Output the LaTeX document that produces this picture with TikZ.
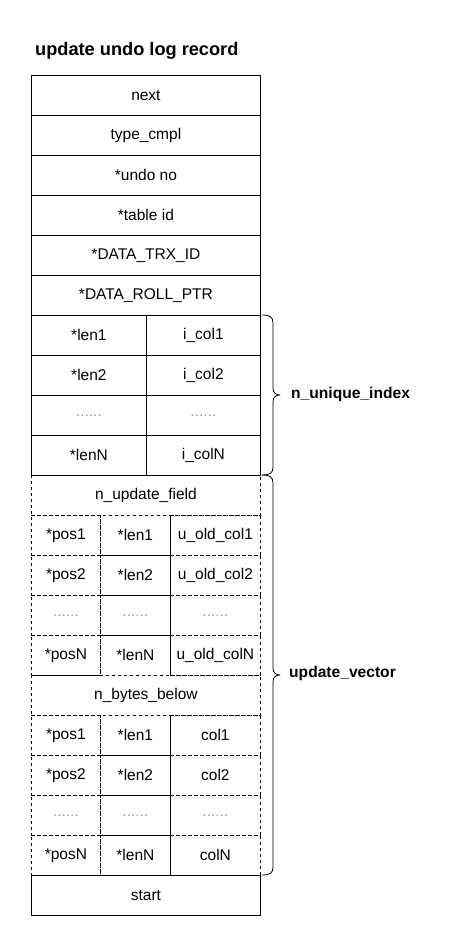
\documentclass[tikz,border=0pt]{standalone}
\usepackage{fontspec}
\setmainfont{Liberation Sans}
\begin{document}
\begin{tikzpicture}[x=1pt,y=-1pt,
  base/.style={minimum height=40pt, inner sep=0pt, anchor=north west, font=\fontsize{15.5}{18}\selectfont, line width=0.8pt},
  cell/.style={base, draw},
  dcell/.style={base, draw, dash pattern=on 3pt off 3pt},
  dots/.style={text=gray!75},
  lbl/.style={font=\fontsize{15.6}{18}\selectfont\bfseries, anchor=west, inner sep=0pt},
  bracepath/.style={line width=0.8pt, line join=round}
]
\useasboundingbox (0,0) rectangle (453,946);
\node[anchor=west, inner sep=0pt, font=\fontsize{18.2}{21}\selectfont\bfseries] (title) at (35,51) {update undo log record};
% header rows
\node[cell, minimum width=229pt] (next) at (31,75) {next};
\node[cell, minimum width=229pt] (type) at (31,115) {type\_cmpl};
\node[cell, minimum width=229pt] (undo) at (31,155) {*undo no};
\node[cell, minimum width=229pt] (tab) at (31,195) {*table id};
\node[cell, minimum width=229pt] (trx) at (31,235) {*DATA\_TRX\_ID};
\node[cell, minimum width=229pt] (roll) at (31,275) {*DATA\_ROLL\_PTR};
% unique index
\node[cell, minimum width=115pt] (ul1) at (31,315) {*len1};
\node[cell, minimum width=114pt] (uc1) at (146,315) {i\_col1};
\node[cell, minimum width=115pt] (ul2) at (31,355) {*len2};
\node[cell, minimum width=114pt] (uc2) at (146,355) {i\_col2};
\node[cell, minimum width=115pt, dots] (ul3) at (31,395) {......};
\node[cell, minimum width=114pt, dots] (uc3) at (146,395) {......};
\node[cell, minimum width=115pt] (ulN) at (31,435) {*lenN};
\node[cell, minimum width=114pt] (ucN) at (146,435) {i\_colN};
% update vector (dashed)
\node[dcell, minimum width=229pt] (nuf) at (31,475) {n\_update\_field};
\node[dcell, minimum width=69pt] (op1) at (31,515) {*pos1};
\node[dcell, minimum width=70pt] (ol1) at (100,515) {*len1};
\node[dcell, minimum width=90pt] (oc1) at (170,515) {u\_old\_col1};
\node[dcell, minimum width=69pt] (op2) at (31,555) {*pos2};
\node[dcell, minimum width=70pt] (ol2) at (100,555) {*len2};
\node[dcell, minimum width=90pt] (oc2) at (170,555) {u\_old\_col2};
\node[dcell, minimum width=69pt, dots] (op3) at (31,595) {......};
\node[dcell, minimum width=70pt, dots] (ol3) at (100,595) {......};
\node[dcell, minimum width=90pt, dots] (oc3) at (170,595) {......};
\node[dcell, minimum width=69pt] (opN) at (31,635) {*posN};
\node[dcell, minimum width=70pt] (olN) at (100,635) {*lenN};
\node[dcell, minimum width=90pt] (ocN) at (170,635) {u\_old\_colN};
\node[dcell, minimum width=229pt] (nbb) at (31,675) {n\_bytes\_below};
\node[dcell, minimum width=69pt] (np1) at (31,715) {*pos1};
\node[dcell, minimum width=70pt] (nl1) at (100,715) {*len1};
\node[dcell, minimum width=90pt] (nc1) at (170,715) {col1};
\node[dcell, minimum width=69pt] (np2) at (31,755) {*pos2};
\node[dcell, minimum width=70pt] (nl2) at (100,755) {*len2};
\node[dcell, minimum width=90pt] (nc2) at (170,755) {col2};
\node[dcell, minimum width=69pt, dots] (np3) at (31,795) {......};
\node[dcell, minimum width=70pt, dots] (nl3) at (100,795) {......};
\node[dcell, minimum width=90pt, dots] (nc3) at (170,795) {......};
\node[dcell, minimum width=69pt] (npN) at (31,835) {*posN};
\node[dcell, minimum width=70pt] (nlN) at (100,835) {*lenN};
\node[dcell, minimum width=90pt] (ncN) at (170,835) {colN};
% solid line on top of dashed update top edge
\draw[line width=0.8pt] (ulN.south west) -- (ucN.south east);
\node[cell, minimum width=229pt] (start) at (31,875) {start};
% braces
\draw[bracepath] (262,315) .. controls (270,315) and (273,317) .. (273,323)
  -- (273,388) .. controls (273,393) and (276,395) .. (280,395)
  .. controls (276,395) and (273,397) .. (273,402)
  -- (273,467) .. controls (273,473) and (270,475) .. (262,475);
\draw[bracepath] (262,475) .. controls (270,475) and (273,477) .. (273,483)
  -- (273,668) .. controls (273,673) and (276,675) .. (280,675)
  .. controls (276,675) and (273,677) .. (273,682)
  -- (273,867) .. controls (273,873) and (270,875) .. (262,875);
\node[lbl] (uidx) at (291,394) {n\_unique\_index};
\node[lbl] (uvec) at (289,673) {update\_vector};
\end{tikzpicture}
\end{document}
